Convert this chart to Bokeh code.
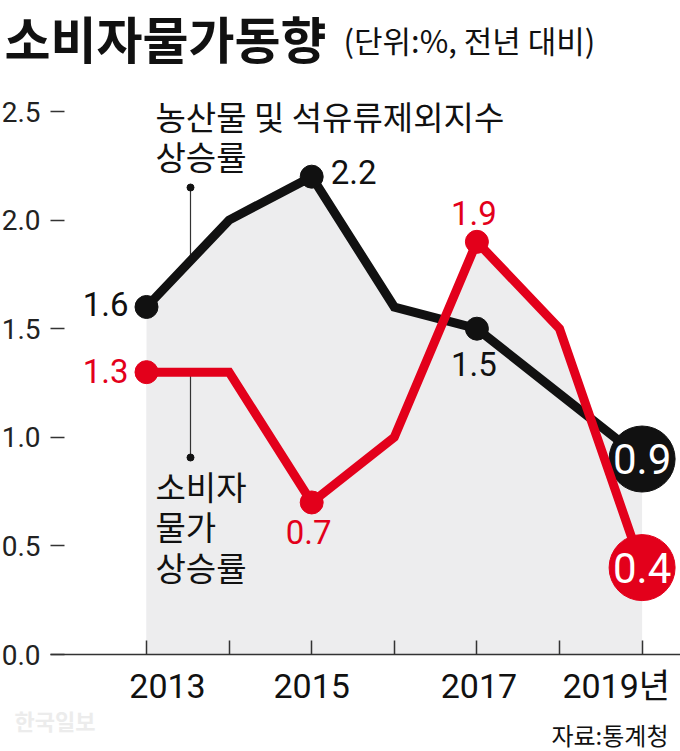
import numpy as np
from bokeh.plotting import figure
from bokeh.models import Label, FixedTicker, Range1d, LinearAxis
from bokeh.embed import file_html
from bokeh.resources import INLINE

# ---------------- data ----------------
years = [2013, 2014, 2015, 2016, 2017, 2018, 2019]
core_cpi = [1.6, 2.0, 2.2, 1.6, 1.5, 1.2, 0.9]   # 농산물 및 석유류제외지수 상승률
cpi = [1.3, 1.3, 0.7, 1.0, 1.9, 1.5, 0.4]        # 소비자물가 상승률
y_ticks = [0.0, 0.5, 1.0, 1.5, 2.0, 2.5]
x_tick_years = [2013, 2015, 2017, 2019]
x_tick_labels = ["2013", "2015", "2017", "2019년"]
marked_years = [2013, 2015, 2017]
title_text = "소비자물가동향"
subtitle_text = "(단위:%, 전년 대비)"
core_name = ["농산물 및 석유류제외지수", "상승률"]
cpi_name = ["소비자", "물가", "상승률"]
source_text = "자료:통계청"
watermark_text = "한국일보"

# ---------------- layout (picture pixels) ----------------
W, H = 680, 751
AX_L, AX_B = 50, 654       # y-axis position / zero line
X0_PX, PX_X = 146, 82.6    # 2013 position, px per year
PX_Y = 217.2               # px per unit

def dx(px):
    return years[0] + (px - X0_PX) / PX_X

def dy(py):
    return (AX_B - py) / PX_Y

BLACK = "#111111"
RED = "#e3001b"
GRAY = "#ededee"
AXC = "#333333"
NUM_FONT = "Roboto, 'Noto Sans CJK KR'"
KR_FONT = "'Noto Sans CJK KR'"

p = figure(width=W, height=H, output_backend="svg", toolbar_location=None,
           x_axis_type=None, y_axis_type=None,
           x_range=Range1d(dx(0), dx(W)), y_range=Range1d(dy(H), dy(0)),
           min_border=0, min_border_left=0, min_border_right=0,
           min_border_top=0, min_border_bottom=0)
p.outline_line_color = None
p.background_fill_color = "white"
p.border_fill_color = "white"

# x axis at zero, ticks pointing up, no labels of its own
xax = LinearAxis(fixed_location=0, ticker=FixedTicker(ticks=[], minor_ticks=years),
                 bounds=(dx(AX_L), dx(W)))
xax.axis_line_color = AXC
xax.axis_line_width = 1.5
xax.minor_tick_line_color = AXC
xax.minor_tick_line_width = 1.5
xax.minor_tick_in = 14
xax.minor_tick_out = 0
xax.major_tick_line_color = None
p.add_layout(xax, "below")

# y axis: short dashes + labels
yax = LinearAxis(fixed_location=dx(AX_L), ticker=FixedTicker(ticks=y_ticks))
yax.major_label_overrides = {t: f"{t:.1f}" for t in y_ticks}
yax.axis_line_color = None
yax.major_tick_line_color = AXC
yax.major_tick_line_width = 1.5
yax.major_tick_in = 14
yax.major_tick_out = 0
yax.minor_tick_line_color = None
yax.major_label_standoff = 10
yax.major_label_text_font = NUM_FONT
yax.major_label_text_font_size = "28px"
yax.major_label_text_color = "#222222"
p.add_layout(yax, "left")

# gray area under both series
p.varea(x=years, y1=0, y2=core_cpi, fill_color=GRAY)
p.varea(x=years, y1=0, y2=cpi, fill_color=GRAY)

# leader lines for series names
lx = dx(190)
core_at = float(np.interp(lx, years, core_cpi))
cpi_at = float(np.interp(lx, years, cpi))
p.segment(x0=[lx], y0=[dy(187)], x1=[lx], y1=[core_at], line_color=AXC, line_width=1.2)
p.segment(x0=[lx], y0=[cpi_at], x1=[lx], y1=[dy(457)], line_color=AXC, line_width=1.2)
p.scatter(x=[lx, lx], y=[dy(187), dy(457)], size=7, color=BLACK)

# series
mk = [years.index(y) for y in marked_years]
p.line(years, core_cpi, line_width=9, line_color=BLACK, line_join="miter")
p.scatter([years[i] for i in mk], [core_cpi[i] for i in mk], size=23, color=BLACK)
p.scatter([years[-1]], [core_cpi[-1]], size=66, color=BLACK)
p.line(years, cpi, line_width=9, line_color=RED, line_join="miter")
p.scatter([years[i] for i in mk], [cpi[i] for i in mk], size=23, color=RED)
p.scatter([years[-1]], [cpi[-1]], size=66, color=RED)

# value labels: placement (align, x_offset, y_offset) per year
core_place = {2013: ("right", -18, 3), 2015: ("left", 19, 5), 2017: ("center", -3, -35)}
cpi_place = {2013: ("right", -18, 1), 2015: ("center", -3, -30), 2017: ("center", -3, 29)}
for vals, place, col in ((core_cpi, core_place, BLACK), (cpi, cpi_place, RED)):
    for yr, (al, xo, yo) in place.items():
        v = vals[years.index(yr)]
        p.add_layout(Label(x=yr, y=v, x_offset=xo, y_offset=yo, text=f"{v:.1f}",
                           text_align=al, text_baseline="middle", text_color=col,
                           text_font=NUM_FONT, text_font_size="33px"))
    p.add_layout(Label(x=years[-1], y=vals[-1], text=f"{vals[-1]:.1f}",
                       text_align="center", text_baseline="middle", text_color="white",
                       text_font=NUM_FONT, text_font_size="42px"))

# x tick labels
x_lab_place = [("center", 21), ("center", 0), ("center", 2), ("right", 28)]
for yr, lab, (al, xo) in zip(x_tick_years, x_tick_labels, x_lab_place):
    p.add_layout(Label(x=yr, y=0, x_offset=xo, y_offset=-31, text=lab,
                       text_align=al, text_baseline="middle", text_color="#111111",
                       text_font=NUM_FONT, text_font_size="34px"))

# series names
for i, t in enumerate(core_name):
    p.add_layout(Label(x=dx(155), y=dy(115 + 40 * i), text=t, text_align="left",
                       text_baseline="middle", text_color="#111111",
                       text_font=KR_FONT, text_font_size="33px"))
for i, t in enumerate(cpi_name):
    p.add_layout(Label(x=dx(155), y=dy(485 + 40.5 * i), text=t, text_align="left",
                       text_baseline="middle", text_color="#111111",
                       text_font=KR_FONT, text_font_size="33px"))

# title, subtitle, source, watermark
p.add_layout(Label(x=dx(4), y=dy(36), text=title_text, text_align="left",
                   text_baseline="middle", text_color="#111111", text_font=KR_FONT,
                   text_font_size="50px", text_font_style="bold"))
p.add_layout(Label(x=dx(343), y=dy(39), text=subtitle_text, text_align="left",
                   text_baseline="middle", text_color="#111111", text_font=KR_FONT,
                   text_font_size="31px"))
p.add_layout(Label(x=dx(668), y=dy(734), text=source_text, text_align="right",
                   text_baseline="middle", text_color="#111111", text_font=KR_FONT,
                   text_font_size="24px"))
p.add_layout(Label(x=dx(14), y=dy(719), text=watermark_text, text_align="left",
                   text_baseline="middle", text_color="#ececec", text_font=KR_FONT,
                   text_font_size="22px", text_font_style="bold"))

open("out.html", "w").write(file_html(p, INLINE))
